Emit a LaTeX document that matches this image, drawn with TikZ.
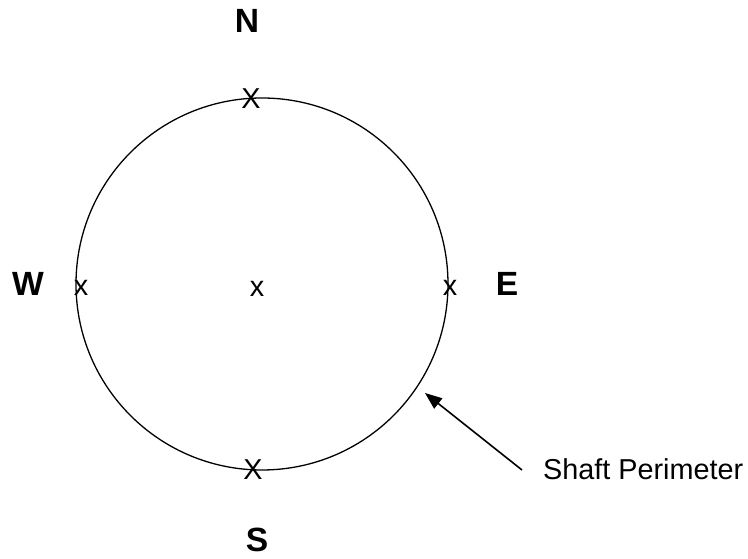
\documentclass[tikz,border=0pt]{standalone}
\usepackage{fontspec}
\setmainfont{Liberation Sans}
\usetikzlibrary{arrows.meta}

\tikzset{
  compass/.style={font=\fontsize{33.6}{40}\selectfont\bfseries, inner sep=0pt},
  mark x/.style={font=\fontsize{28.8}{34}\selectfont, inner sep=0pt},
  pointer/.style={line width=1.6pt, -{Triangle[length=17pt,width=13pt]}}
}

\begin{document}
\begin{tikzpicture}[x=1pt, y=1pt]
\useasboundingbox (0,0) rectangle (748,559);

% shaft outline
\node[draw, circle, line width=1.3pt, minimum size=372pt, inner sep=0pt] (shaft) at (262,275) {};

% compass letters
\node[compass] (north) at (247,538) {N};
\node[compass] (west) at (28,275) {W};
\node[compass] (east) at (507,275) {E};
\node[compass] (south) at (257,19) {S};

% survey marks
\node[mark x] (mN) at (251,460) {X};
\node[mark x] (mS) at (253,89) {X};
\node[mark x] (mW) at (81,271) {x};
\node[mark x] (mE) at (450,271) {x};
\node[mark x] (mC) at (257,270) {x};

% label and pointer
\node[mark x, anchor=west] (label) at (543,90) {Shaft Perimeter};
\coordinate (tail) at (522,89);
\coordinate (tip) at (425,166);
\draw[pointer] (tail) -- (tip);

\end{tikzpicture}
\end{document}
